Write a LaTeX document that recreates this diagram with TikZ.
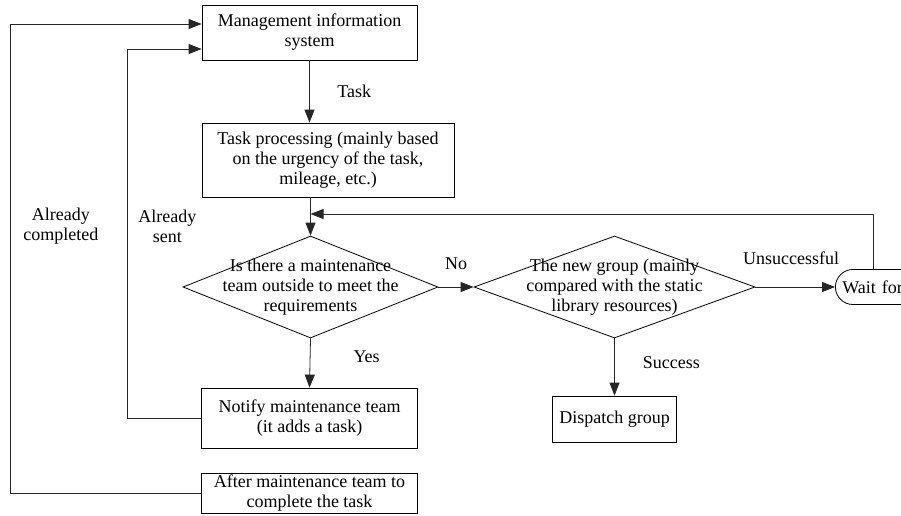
\documentclass[tikz,border=0pt]{standalone}
\usepackage{fontspec}
\setmainfont{Liberation Serif}
\usetikzlibrary{arrows.meta,shapes.geometric}
\begin{document}
\begin{tikzpicture}[x=1pt, y=-1pt,
   every node/.style={font=\fontsize{18}{20}\selectfont},
   box/.style={draw, line width=0.8pt, align=center, inner sep=0pt},
   decision/.style={draw, diamond, line width=0.8pt, inner sep=0pt},
   lbl/.style={inner sep=0pt, align=center},
   arr/.style={draw=black!85, line width=0.8pt, -{Triangle[length=13pt,width=10pt]}}]

   \def\xm{309.5} % main column
   \def\xg{614.5} % group column
   \def\yq{287} % question row

   \useasboundingbox (0,0) rectangle (901,515);

   \node[box, minimum width=215pt, minimum height=55pt] (mis) at (\xm, 32.5) {Management information\\system};
   \node[box, minimum width=252pt, minimum height=74pt] (proc) at (328, 160) {Task processing (mainly based\\on the urgency of the task,\\mileage, etc.)};

   \node[decision, minimum width=255pt, minimum height=102pt,
      label={[lbl]center:Is there a maintenance\\team outside to meet the\\requirements}] (ask) at (310.5, \yq) {};
   \node[decision, minimum width=281pt, minimum height=102pt,
      label={[lbl]center:The new group (mainly\\compared with the static\\library resources)}] (grp) at (\xg, \yq) {};
   \node[draw, line width=0.8pt, rounded corners=17.5pt, minimum height=35pt, text width=96pt,
      inner xsep=7pt, align=left, anchor=west] (wait) at (835, \yq) {Wait for};

   \node[box, minimum width=216pt, minimum height=60pt] (notify) at (\xm, 418) {Notify maintenance team\\(it adds a task)};
   \node[box, minimum width=124pt, minimum height=46pt] (disp) at (\xg, 419) {Dispatch group};
   \node[box, minimum width=216pt, minimum height=40pt] (after) at (\xm, 493) {After maintenance team to\\complete the task};

   \coordinate (back) at (873, 214);
   \coordinate (sent) at (127, 49);
   \coordinate (done) at (10, 24);

   \draw[arr] (mis.south) -- (mis.south |- proc.north) node[lbl, midway, right=27.5pt] (task) {Task};
   \draw[arr] (ask.north |- proc.south) -- (ask.north);
   \draw[arr] (ask.east) -- (grp.west) node[lbl, midway, above=17pt] (no) {No};
   \draw[arr] (ask.south) -- (notify.north) node[lbl, pos=0.38, right=43pt] (yes) {Yes};
   \draw[arr] (grp.east) -- (wait.west) node[lbl, midway, above=22pt, xshift=-4pt] (fail) {Unsuccessful};
   \draw[arr] (grp.south) -- (disp.north) node[lbl, pos=0.43, right=28pt] (ok) {Success};
   \draw[arr] (wait.north -| back) |- (ask.north |- back);

   \draw[arr] (notify.west) -| node[lbl, pos=0.76, right=11pt] (sentlbl) {Already\\sent} (sent) -- (sent -| mis.west);
   \draw[arr] (after.west) -| node[lbl, pos=0.785, right=13pt] (donelbl) {Already\\completed} (done) -- (done -| mis.west);

\end{tikzpicture}
\end{document}
